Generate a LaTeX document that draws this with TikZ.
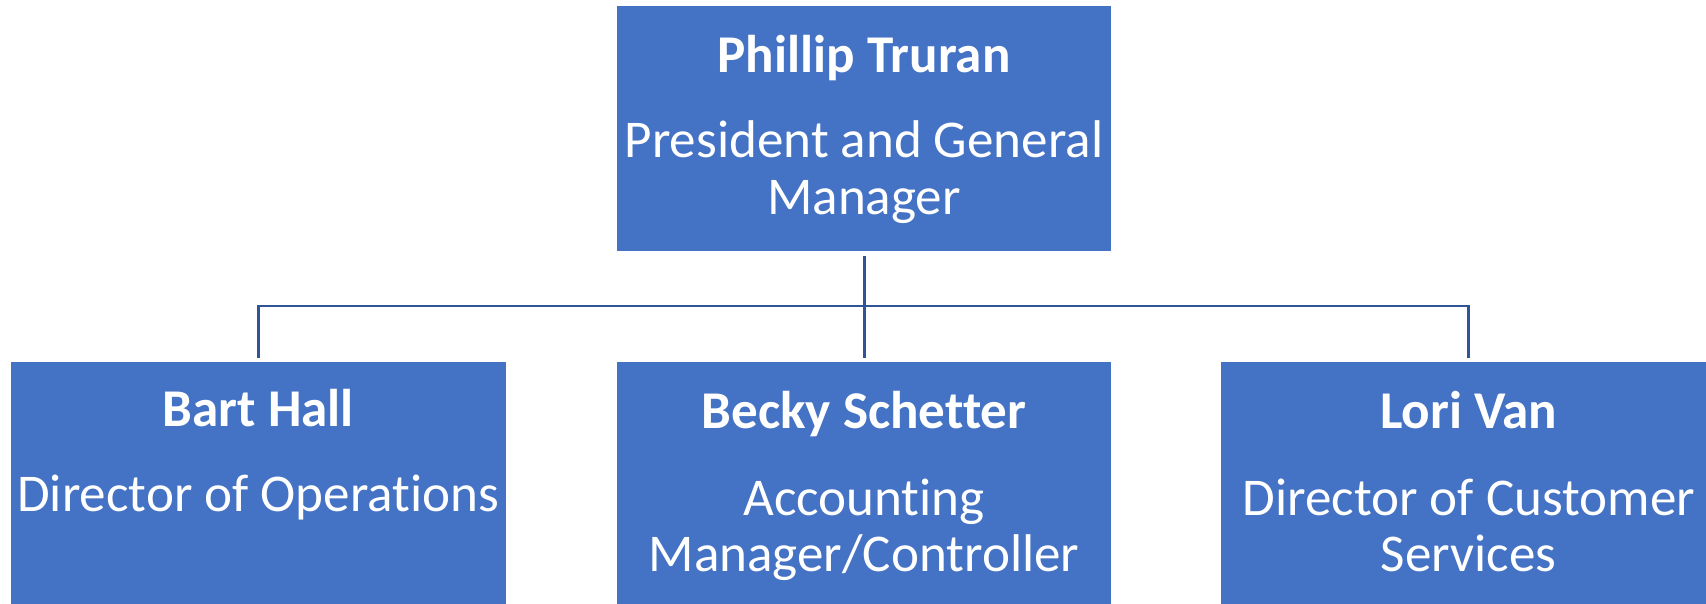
\documentclass[tikz,border=0pt]{standalone}
\usepackage{fontspec}
\setmainfont{Carlito}[Ligatures=NoCommon]
\usetikzlibrary{positioning}
\definecolor{boxblue}{HTML}{4472C4}
\definecolor{lineblue}{HTML}{2F5597}

\begin{document}
\begin{tikzpicture}[x=0.01cm,y=-0.01cm,node distance=1.08cm,
  person/.style={rectangle,fill=boxblue,draw=white,line width=0.4pt,minimum width=4.96cm,minimum height=2.47cm,inner sep=0pt},
  persname/.style={text=white,font=\fontsize{15.1pt}{16.2pt}\selectfont\bfseries,anchor=base,inner sep=0pt},
  persrole/.style={text=white,font=\fontsize{15.1pt}{16.2pt}\selectfont,align=center,anchor=base,inner sep=0pt},
  conn/.style={draw=lineblue,line width=0.85pt,shorten <=0.03cm,shorten >=0.03cm}]
\clip (0,0) rectangle (1706,603);
% boxes
\node[person] (pt) at (864,128.5) {};
\node[person] (bs) [below=of pt] {};
\node[person] (bh) [left=of bs] {};
\node[person] (lv) [right=1.07cm of bs] {};
% texts (base of a two-line role is its last line)
\node[persname] (ptname) at ([yshift=-0.68cm]pt.north) {Phillip Truran};
\node[persrole] (ptrole) at ([yshift=-2.10cm]pt.north) {President and General\\Manager};
\node[persname] (bhname) at ([yshift=-0.66cm]bh.north) {Bart Hall};
\node[persrole] (bhrole) at ([yshift=-1.51cm]bh.north) {Director of Operations};
\node[persname] (bsname) at ([yshift=-0.68cm]bs.north) {Becky Schetter};
\node[persrole] (bsrole) at ([yshift=-2.11cm]bs.north) {Accounting\\Manager/Controller};
\node[persname] (lvname) at ([yshift=-0.68cm]lv.north) {Lori Van};
\node[persrole] (lvrole) at ([yshift=-2.11cm]lv.north) {Director of Customer\\Services};
% connectors
\coordinate (bus) at (864,306);
\draw[conn] (pt) -- (bs);
\draw[conn] (bh) |- (bus) -| (lv);
\end{tikzpicture}
\end{document}
